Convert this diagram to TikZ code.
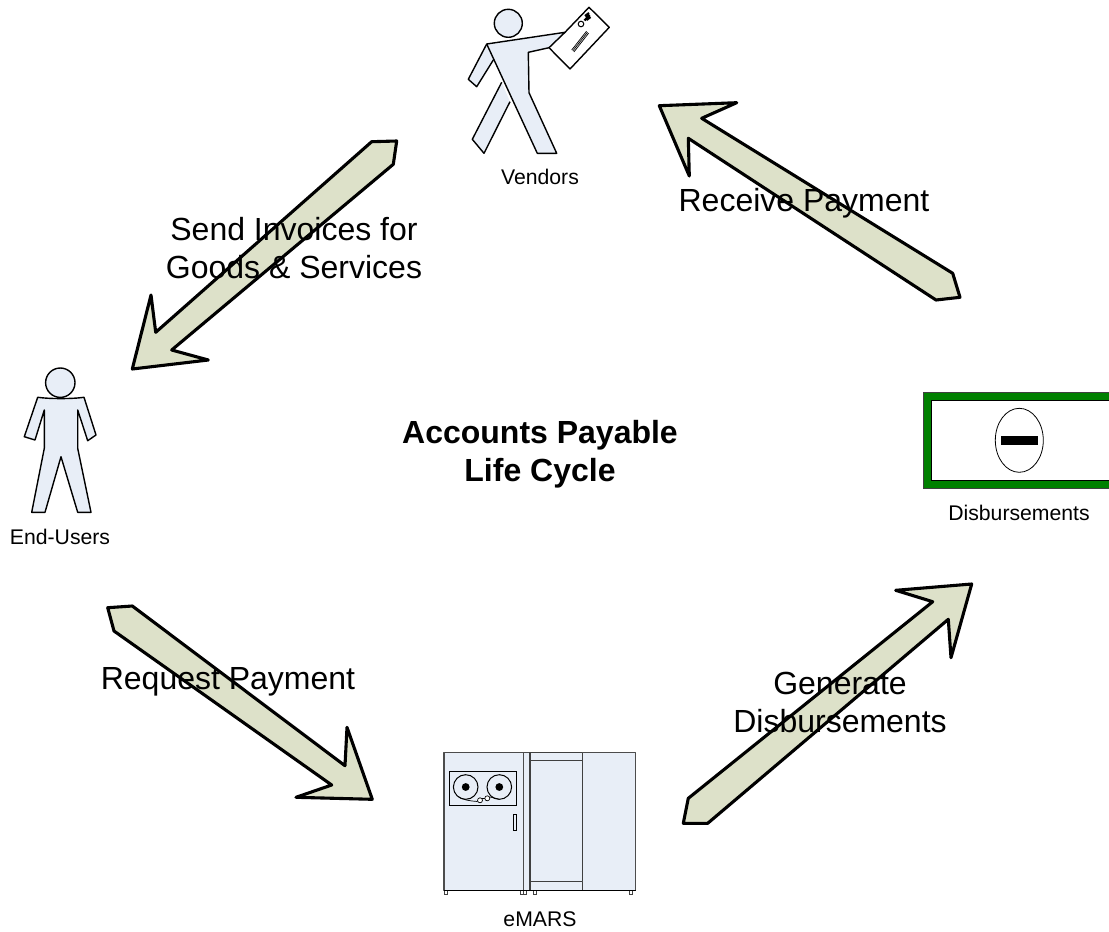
\documentclass[tikz,border=0pt]{standalone}
\usepackage{fontspec}
\setmainfont{Liberation Sans}
\definecolor{arrowfill}{RGB}{221,225,201}
\definecolor{bodyfill}{RGB}{232,238,247}
\definecolor{boxgreen}{RGB}{0,128,0}
\tikzset{
  bigarrow/.style={draw=black,fill=arrowfill,line width=3.1pt,line join=round},
  figure/.style={draw=black,fill=bodyfill,line width=1.4pt,line join=round},
  thin part/.style={draw=black,line width=1pt},
  small label/.style={inner sep=0pt,align=center,font=\fontsize{21.2}{25}\selectfont},
  big label/.style={inner sep=0pt,align=center,font=\fontsize{32}{38}\selectfont},
  title label/.style={inner sep=0pt,align=center,font=\fontsize{32}{38}\selectfont\bfseries}
}
\begin{document}
\begin{tikzpicture}[x=1pt,y=-1pt]
\useasboundingbox (0,0) rectangle (1109,932);
% arrows
\draw[bigarrow] (371.7,141.7)--(396.7,141)--(393.3,164.3)--(171.7,350)--(208.3,360)--(132.3,369)--(151,295)--(155.7,332.3)--cycle;
\draw[bigarrow] (659.3,105.7)--(736.7,102.7)--(701.7,118.3)--(952.7,273.3)--(960,297.3)--(936,300)--(688.3,138.3)--(689.3,176)--cycle;
\draw[bigarrow] (107.7,607.7)--(132.3,606)--(345,765.7)--(347,727.3)--(372.3,799.3)--(296,797.3)--(331.7,785)--(114,631)--cycle;
\draw[bigarrow] (683.3,823.3)--(707.7,823.3)--(948.3,619.3)--(951,657.7)--(971.7,584)--(895.7,590.3)--(932.7,601.7)--(688.3,798.3)--cycle;
% vendor
\draw[figure] (508.3,23.3) circle[radius=14];
\draw[figure,fill=white] (549,47.7)--(570,69)--(609.3,27.3)--(589,7.3)--(565,32.3);
\draw[figure] (501.7,82.3)--(472.3,139.3)--(484,153.3)--(510,101.7);
\draw[figure] (486.7,44)--(468.3,79.3)--(476.7,86.7)--(493.3,60);
\draw[figure] (486.7,44)--(565,32.3)--(549,47.7)--(528.3,52.3)--(529,92.7)--(556.7,153.3)--(537.3,153.3)--cycle;
\draw[thin part,line width=0.7pt] (571.7,50)--(586.5,31.2) (572.8,51)--(587.5,32.2) (573.9,52)--(588.6,33.2);
\draw[thin part] (581,24) circle[radius=2.8];
\draw[thin part,line width=2.2pt] (584.5,20.5)--(589.5,15) (586.5,20)--(590.5,17) (585,16)--(589,13);
% end user
\draw[figure] (60.3,382.7) circle[radius=14.7];
\draw[figure] (37.7,397.3) .. controls (50,399) and (72,399) .. (84,397.3)--(96,435)--(87.7,440.7)--(77.7,410)--(77.7,448.3)--(91,512.3)--(77.7,512.3)--(61,456.7)--(45,512.3)--(31.7,512.3)--(44.3,448.3)--(44.3,410)--(35,440)--(24.3,436.7)--cycle;
% eMARS
\draw[figure,draw=black!70] (444,752.3) rectangle (635.7,890.3);
\draw[figure,draw=black!70] (523.3,752.3) rectangle (530,890.3);
\draw[figure,draw=black!75] (530,752.3) rectangle (582.7,890.3);
\draw[figure,draw=black!75] (530,760.7) rectangle (582.7,881.7);
\draw[thin part,fill=bodyfill] (449,771.7) rectangle (516,805.7);
\draw[thin part] (465.7,787) circle[radius=12.3] (499.3,787) circle[radius=12.3];
\fill (465.7,787) circle[radius=3.9] (499.3,787) circle[radius=3.9];
\draw[thin part,line width=0.7pt] (458,796.5) .. controls (463,800) and (470,801) .. (477.5,801.5);
\draw[thin part,line width=0.7pt] (482,798.5)--(484.8,798.5) (490,797) .. controls (494,798) and (497,798.5) .. (499.3,799.3);
\draw[thin part,fill=white,line width=0.7pt] (480,800.3) circle[radius=2.5] (487.3,798.3) circle[radius=2.5];
\draw[thin part,line width=0.7pt] (513.3,814.3) rectangle (516.3,830.3);
\foreach \fx in {444,520,523.3,533.3,629.3}
  \draw[line width=0.8pt,draw=black!75] (\fx,890.3) rectangle +(3.5,4.2);
\draw[black,line width=1.3pt] (444,890.3)--(635.7,890.3);
% disbursements
\fill[boxgreen] (923.3,392.7) rectangle (1109,488.3);
\draw[black!75,line width=1pt] (1109,392.7)--(923.3,392.7)--(923.3,488.3)--(1109,488.3);
\draw[black,fill=white,line width=1pt] (1109,400.7)--(931.7,400.7)--(931.7,480)--(1109,480);
\draw[black,line width=0.8pt] (1019.3,440.3) ellipse[x radius=24,y radius=32];
\fill[black] (1001,436) rectangle (1038.3,445.3);
% labels
\node[small label] (vendors) at (540,177) {Vendors};
\node[small label] (endusers) at (60,537) {End-Users};
\node[small label] (emars) at (540,919) {eMARS};
\node[small label] (disb) at (1019,513) {Disbursements};
\node[title label] (title) at (540,454) {Accounts Payable\\Life Cycle};
\node[big label] (invoices) at (294,248) {Send Invoices for\\Goods \& Services};
\node[big label] (receive) at (804,203) {Receive Payment};
\node[big label] (request) at (228,682) {Request Payment};
\node[big label] (generate) at (840,702) {Generate\\Disbursements};
\end{tikzpicture}
\end{document}
